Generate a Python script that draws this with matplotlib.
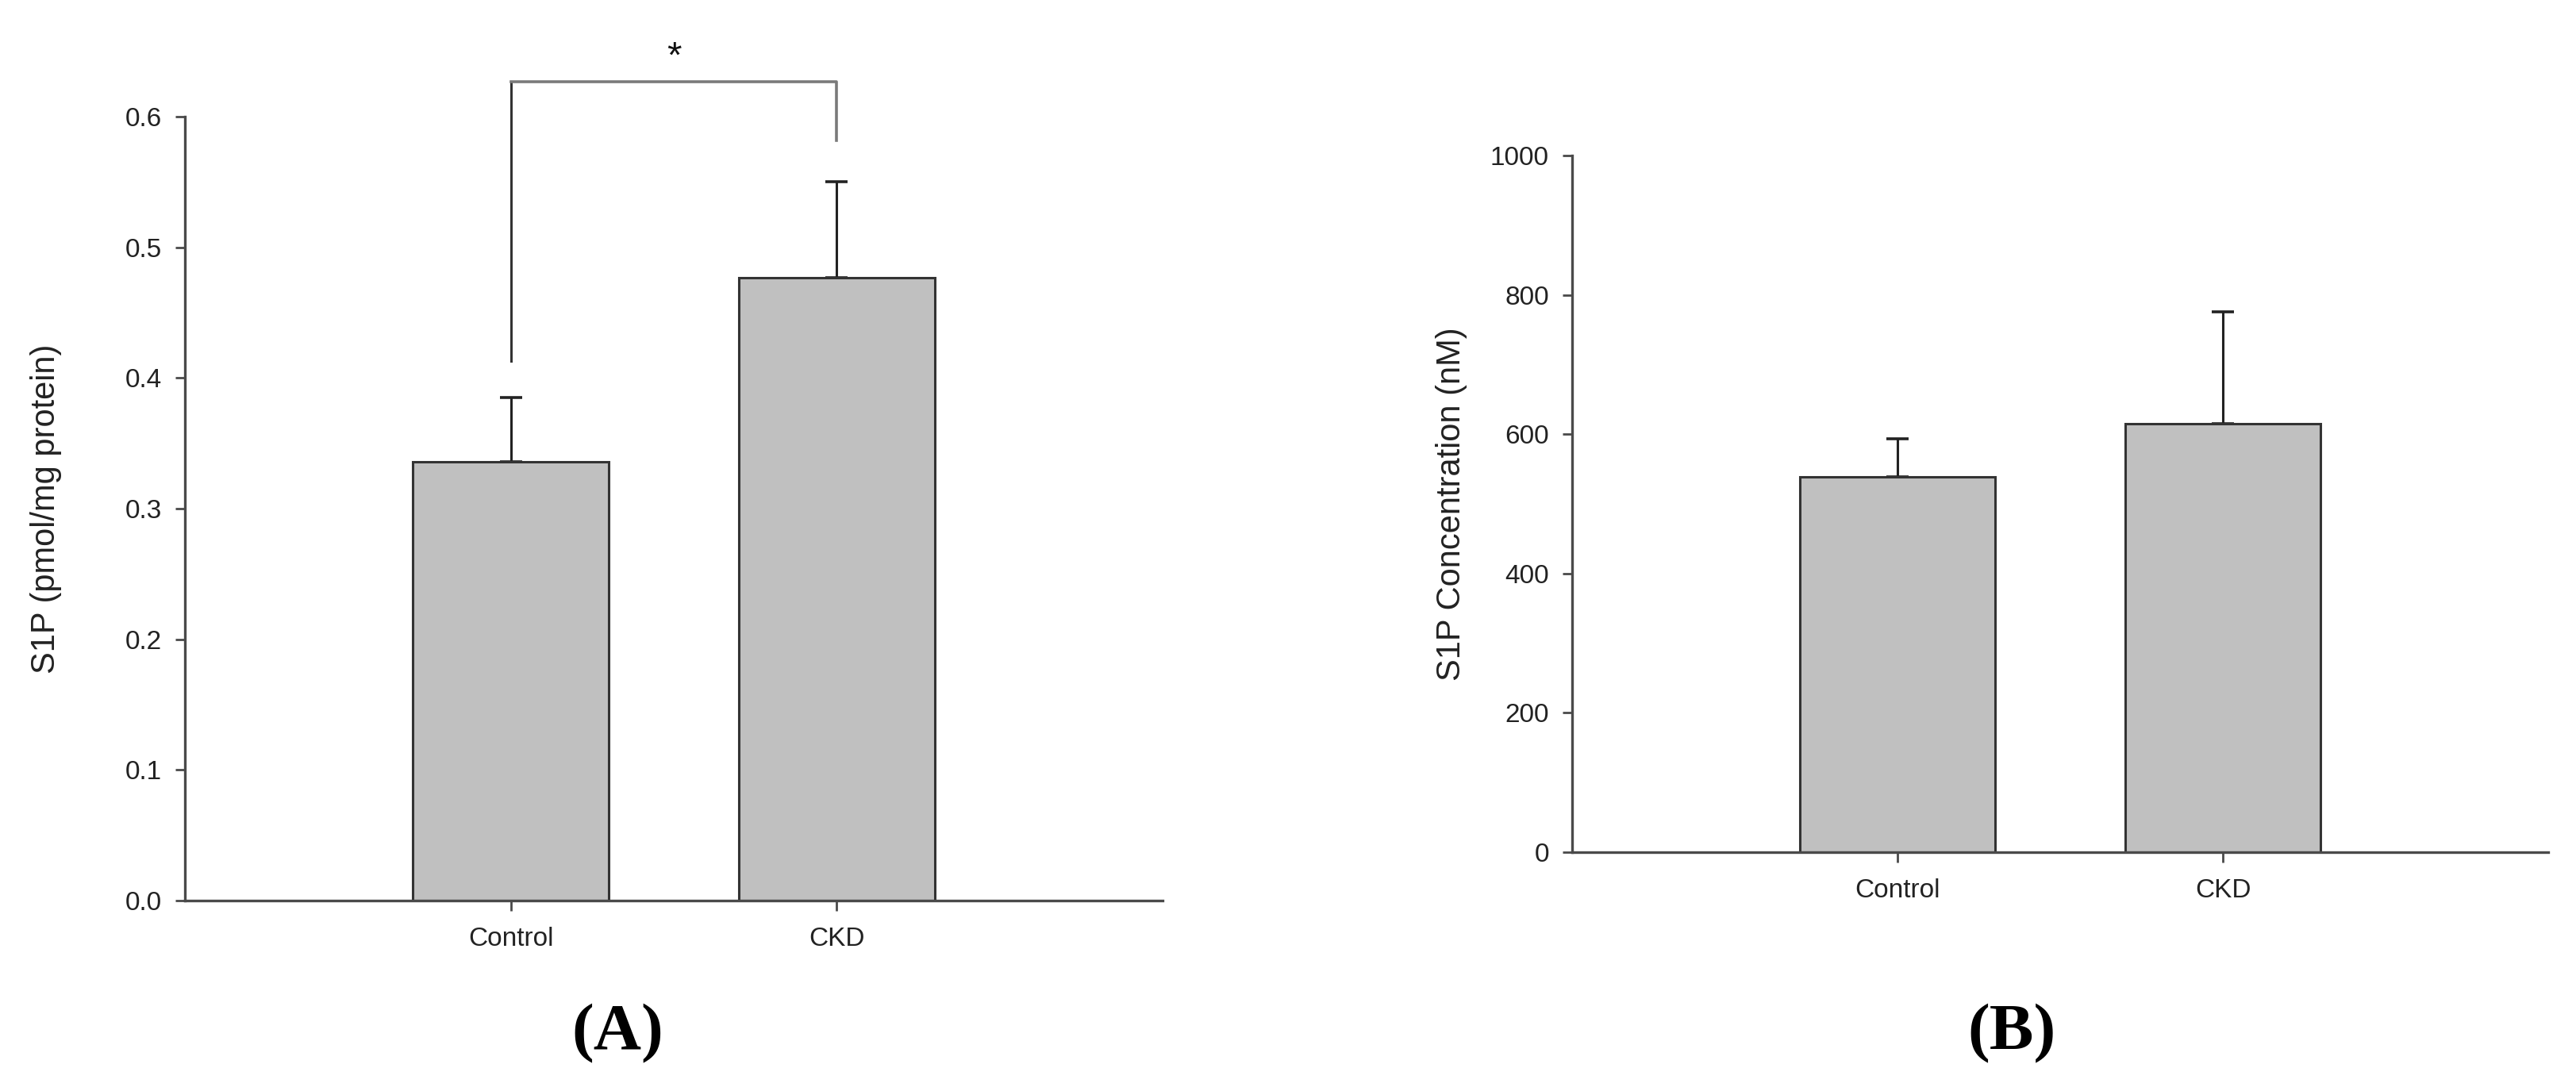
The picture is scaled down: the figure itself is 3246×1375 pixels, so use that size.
import numpy as np
import matplotlib
matplotlib.use("Agg")
import matplotlib.pyplot as plt

groups = ["Control", "CKD"]

# panel A: S1P tissue content (pmol/mg protein), mean and upper SEM
a_mean = [0.336, 0.477]
a_err = [0.049, 0.073]
a_ticks = [0.0, 0.1, 0.2, 0.3, 0.4, 0.5, 0.6]

# panel B: S1P concentration (nM)
b_mean = [539, 615]
b_err = [54, 161]
b_ticks = [0, 200, 400, 600, 800, 1000]

# significance bracket for panel A
br_top = 0.627
br_left_low = 0.413
br_right_low = 0.582
star_y = 0.645

plt.rcParams['font.family'] = ['Liberation Sans', 'DejaVu Sans']

fig = plt.figure(figsize=(32.46, 13.75), dpi=100)
axA = fig.add_axes([0.07178, 0.17455, 0.37954, 0.71855])
axB = fig.add_axes([0.61029, 0.21891, 0.37893, 0.63855])

spine_c = '#4a4a4a'
x = np.arange(1, len(groups) + 1)


def style(ax, ticks, fmt):
    for s in ['top', 'right']:
        ax.spines[s].set_visible(False)
    for s in ['left', 'bottom']:
        ax.spines[s].set_color(spine_c)
        ax.spines[s].set_linewidth(2.4)
    ax.set_xlim(0, 3)
    ax.set_ylim(ticks[0], ticks[-1])
    ax.set_yticks(ticks)
    ax.set_yticklabels([fmt(t) for t in ticks])
    ax.set_xticks(x)
    ax.set_xticklabels(groups)
    ax.tick_params(axis='both', direction='out', length=9, width=2,
                   color=spine_c, labelsize=24, labelcolor='#222222')
    ax.tick_params(axis='y', pad=12)
    ax.tick_params(axis='x', pad=15)


def bars(ax, mean, err):
    ax.errorbar(x, mean, yerr=[np.zeros(len(mean)), err], fmt='none',
                ecolor='#222222', elinewidth=2.2, capsize=10, capthick=2.6,
                zorder=1)
    ax.bar(x, mean, width=0.6, color='#c0c0c0', edgecolor='#333333',
           linewidth=2.2, zorder=2)


bars(axA, a_mean, a_err)
style(axA, a_ticks, lambda t: f'{t:.1f}')
axA.set_ylabel('S1P (pmol/mg protein)', fontsize=30, color='#222222')
axA.yaxis.set_label_coords(-0.126, 0.5)

# bracket
axA.plot([1, 1], [br_left_low, br_top], color='#333333', lw=2.2,
         clip_on=False)
axA.plot([1, 2, 2], [br_top, br_top, br_right_low], color='#7a7a7a',
         lw=2.6, clip_on=False)
axA.text(1.5, star_y, '*', ha='center', va='center', fontsize=34,
         color='#111111', clip_on=False)

bars(axB, b_mean, b_err)
style(axB, b_ticks, lambda t: f'{t:d}')
axB.set_ylabel('S1P Concentration (nM)', fontsize=30, color='#222222')
axB.yaxis.set_label_coords(-0.107, 0.5)

fig.text(778 / 3246, 1 - 1303 / 1375, '(A)', ha='center', va='center',
         fontsize=60, fontweight='bold', family=['Liberation Serif'])
fig.text(2535 / 3246, 1 - 1303 / 1375, '(B)', ha='center', va='center',
         fontsize=60, fontweight='bold', family=['Liberation Serif'])

fig.savefig('out.png', dpi=100, facecolor='white')
